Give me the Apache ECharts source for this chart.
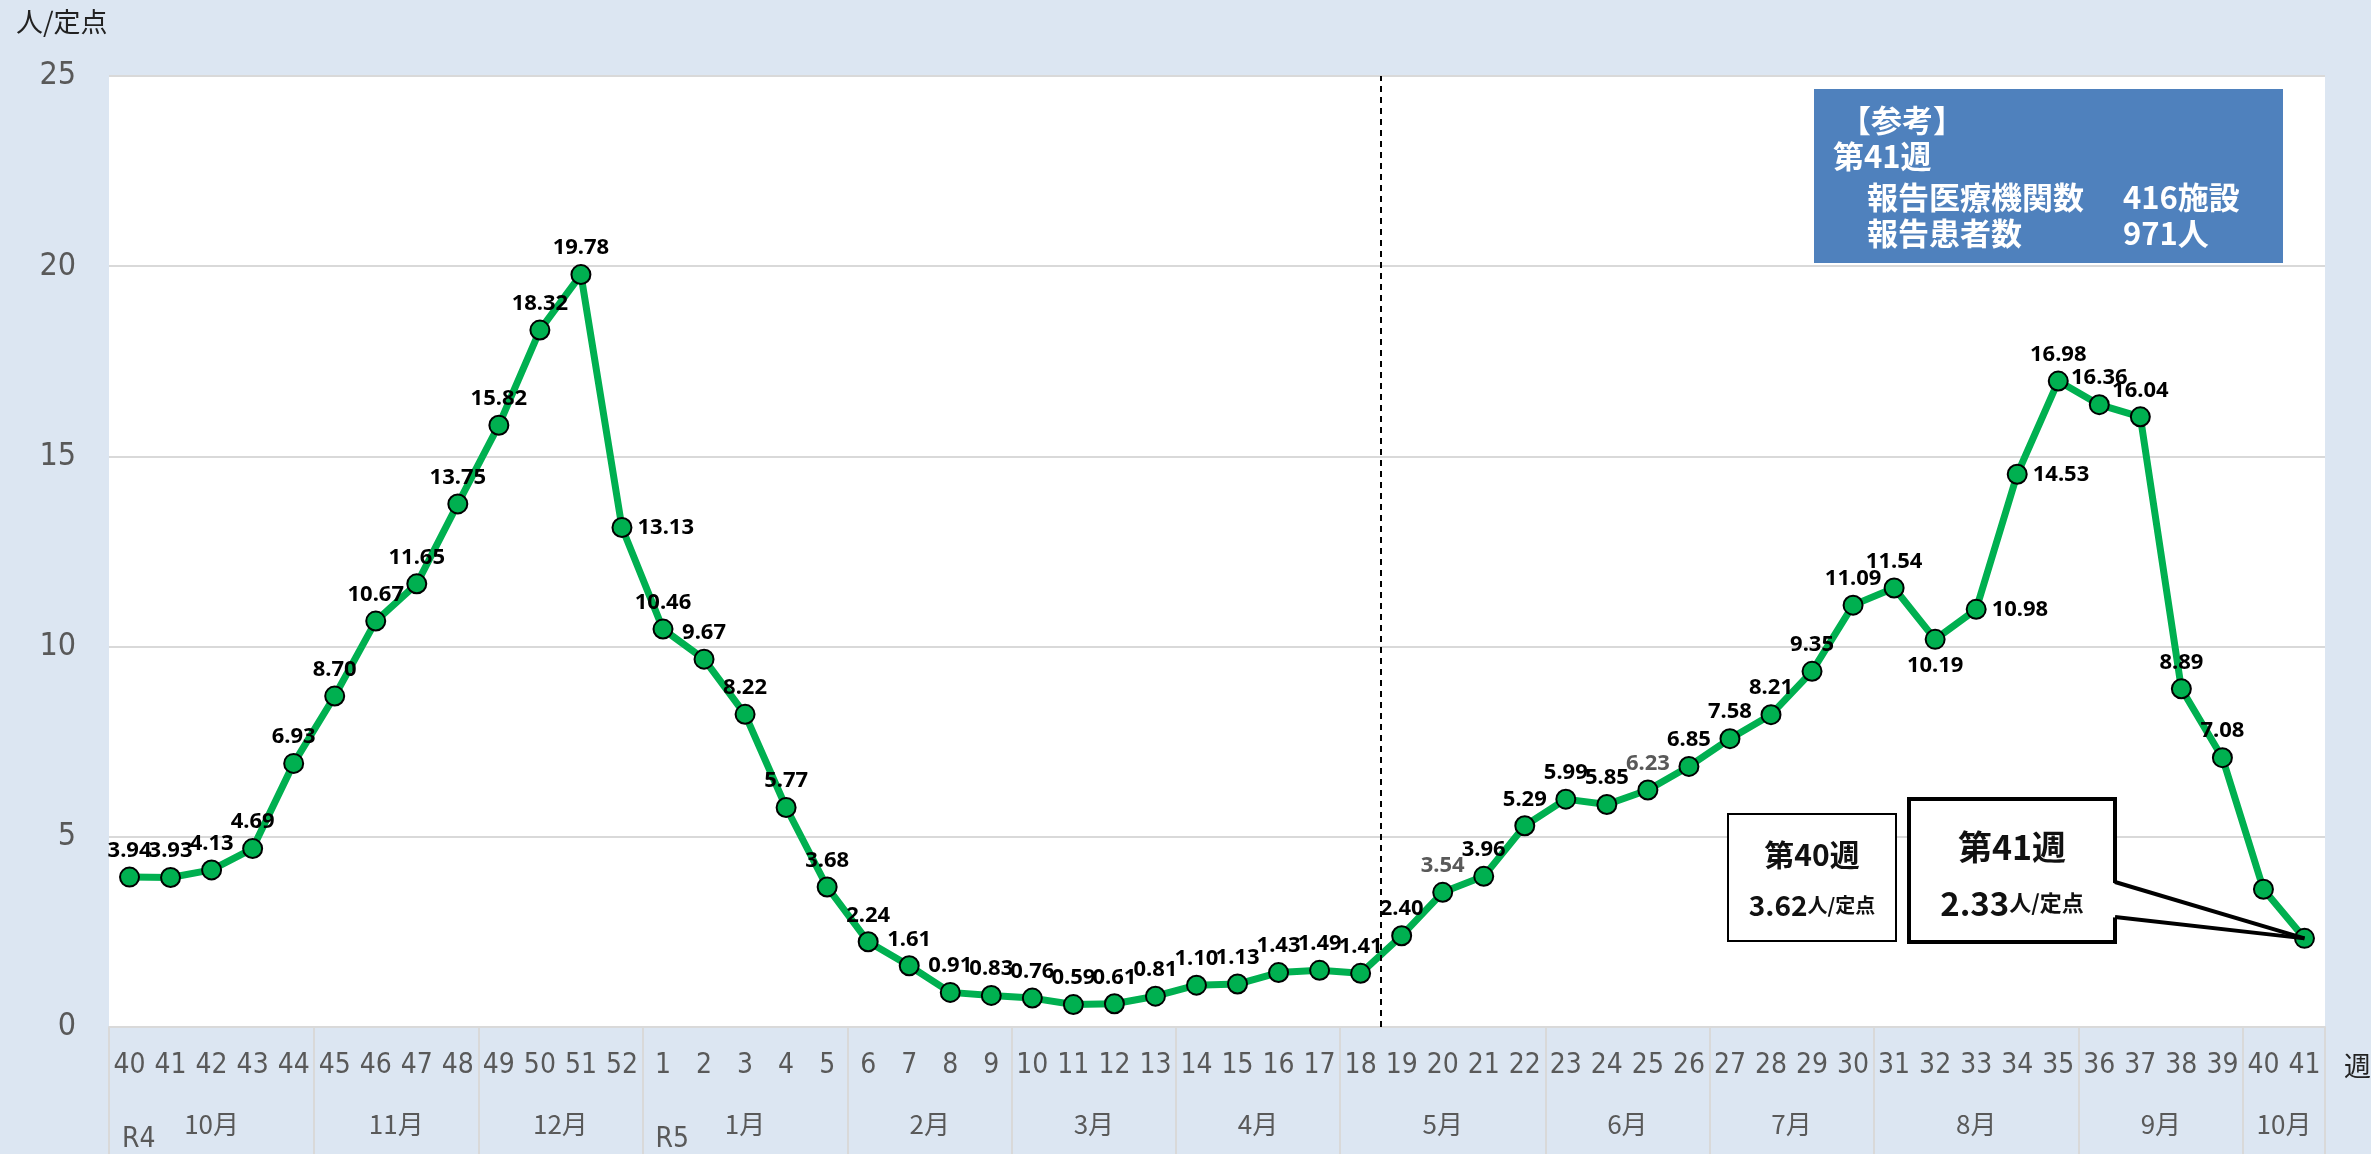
<!DOCTYPE html>
<html>
<head>
<meta charset="utf-8">
<script src="https://cdn.jsdelivr.net/npm/echarts@6/dist/echarts.min.js"></script>
<style>
html, body { margin: 0; padding: 0; background: #dce6f2; }
#chart { width: 2371px; height: 1154px; }
</style>
</head>
<body>
<div id="chart"></div>
<script>
// 週（R4第40週〜R5第41週）
var weeks = ['40', '41', '42', '43', '44', '45', '46', '47', '48', '49', '50', '51', '52',
    '1', '2', '3', '4', '5', '6', '7', '8', '9', '10', '11', '12', '13', '14', '15', '16', '17', '18', '19', '20',
    '21', '22', '23', '24', '25', '26', '27', '28', '29', '30', '31', '32', '33', '34', '35', '36', '37', '38', '39', '40', '41'];
// 定点当たり報告数
var values = [3.94, 3.93, 4.13, 4.69, 6.93, 8.70, 10.67, 11.65, 13.75, 15.82, 18.32, 19.78, 13.13,
    10.46, 9.67, 8.22, 5.77, 3.68, 2.24, 1.61, 0.91, 0.83, 0.76, 0.59, 0.61, 0.81, 1.10, 1.13, 1.43, 1.49, 1.41, 2.40, 3.54,
    3.96, 5.29, 5.99, 5.85, 6.23, 6.85, 7.58, 8.21, 9.35, 11.09, 11.54, 10.19, 10.98, 14.53, 16.98, 16.36, 16.04, 8.89, 7.08, 3.62, 2.33];
// 月と各月の週数
var months = ['10月', '11月', '12月', '1月', '2月', '3月', '4月', '5月', '6月', '7月', '8月', '9月', '10月'];
var monthWeeks = [5, 4, 4, 5, 4, 4, 4, 5, 4, 4, 5, 4, 2];
var eras = ['R4', 'R5'];
var eraStart = [0, 13];
var yTicks = [0, 5, 10, 15, 20, 25];
var infoNames = ['報告医療機関数', '報告患者数'];
var infoValues = ['416施設', '971人'];

// ラベル位置（t:上 tl:左上 tr:右上 r:右 b:下 空:なし）
var labelSide = ['t', 'tr', 't', 't', 'tl', 'tl', 'tl', 'tl', 'tl', 'tl', 'tl', 't', 'r',
    'tr', 'tr', 'tr', 'tr', 'tr', 't', 'tr', 'tr', 'tr', 'tr', 't', 't', 't', 't', 't', 't', 't', 't', 't', 't',
    't', 't', 't', 't', 't', 't', 't', 't', 't', 'tl', 't', 'b', 'r', 'rb', 't', 't', 'tr', 'tr', 'tr', '', ''];
var greyIdx = [32, 37];

var jp = "'Noto Sans CJK JP', sans-serif";
var narrow = "'Liberation Sans Narrow', 'DejaVu Sans Condensed', 'Noto Sans', sans-serif";

function labelFor(i) {
    var s = labelSide[i];
    var l = {show: true};
    if (s === '') return {show: false};
    if (s === 't') { l.position = 'top'; l.offset = [0, 0]; }
    if (s === 'tr') { l.position = 'top'; l.offset = [24, 5]; }
    if (s === 'tl') { l.position = 'top'; l.offset = [-34, 9]; }
    if (s === 'r') { l.position = 'right'; l.offset = [4, -10]; }
    if (s === 'rb') { l.position = 'right'; l.offset = [4, 12]; }
    if (s === 'b') { l.position = 'bottom'; l.offset = [-4, -6]; }
    if (greyIdx.indexOf(i) >= 0) l.color = '#595959';
    return l;
}

// 月軸（半週単位）
var monthData = [], eraData = [], monthTicks = [];
for (var k = 0; k <= weeks.length * 2; k++) { monthData.push(''); eraData.push(''); }
var pos = 0;
for (var m = 0; m < months.length; m++) {
    monthTicks.push(pos * 2);
    monthData[pos * 2 + monthWeeks[m]] = months[m];
    pos += monthWeeks[m];
}
monthTicks.push(pos * 2);
for (var e = 0; e < eras.length; e++) eraData[eraStart[e] * 2] = eras[e];

var chart = echarts.init(document.getElementById('chart'));
var option = {
    backgroundColor: '#dce6f2',
    animation: false,
    grid: {left: 109, right: 46, top: 76, bottom: 127, show: true, backgroundColor: '#fff', borderWidth: 0, outerBoundsMode: 'none'},
    xAxis: [{
        type: 'category',
        position: 'bottom',
        data: weeks,
        axisLine: {lineStyle: {color: '#d9d9d9', width: 2}},
        axisTick: {show: false},
        axisLabel: {interval: 0, color: '#595959', fontSize: 28, fontFamily: narrow, margin: 25}
    }, {
        type: 'category',
        position: 'bottom',
        offset: 0,
        data: monthData,
        boundaryGap: false,
        axisLine: {show: false},
        axisTick: {
            show: true, length: 130,
            interval: function (idx) { return monthTicks.indexOf(idx) >= 0; },
            lineStyle: {color: '#d9d9d9', width: 2}
        },
        axisLabel: {interval: 0, color: '#595959', fontSize: 26, fontFamily: jp, margin: 84}
    }, {
        type: 'category',
        position: 'bottom',
        offset: 0,
        data: eraData,
        boundaryGap: false,
        axisLine: {show: false},
        axisTick: {show: false},
        axisLabel: {interval: 0, color: '#595959', fontSize: 28, fontFamily: narrow, margin: 99, align: 'left', padding: [0, 0, 0, 13]}
    }, {
        type: 'value', min: 0, max: weeks.length, show: false
    }],
    yAxis: {
        type: 'value', min: yTicks[0], max: yTicks[yTicks.length - 1], interval: 5,
        axisLine: {show: false}, axisTick: {show: false},
        splitLine: {lineStyle: {color: '#d9d9d9', width: 2}},
        axisLabel: {color: '#595959', fontSize: 32, fontFamily: narrow, margin: 33}
    },
    series: [{
        type: 'line',
        data: values.map(function (v, i) { return {value: v, label: labelFor(i)}; }),
        symbol: 'circle',
        symbolSize: 19,
        lineStyle: {color: '#00b050', width: 7},
        itemStyle: {color: '#00b050', borderColor: '#000', borderWidth: 2},
        label: {
            show: true, color: '#000', fontSize: 22, fontWeight: 'bold', fontFamily: "'Noto Sans', sans-serif",
            formatter: function (p) { return p.value.toFixed(2); }
        },
        labelLayout: {hideOverlap: false},
        emphasis: {disabled: true},
        z: 3
    }, {
        type: 'line',
        xAxisIndex: 3,
        data: [],
        markLine: {
            silent: true, symbol: 'none', label: {show: false},
            lineStyle: {color: '#000', type: [6, 5], width: 2},
            data: [{xAxis: 31}]
        }
    }]
};
chart.setOption(option);

var tip = chart.convertToPixel({seriesIndex: 0}, [weeks.length - 1, values[weeks.length - 1]]);
var last = values[values.length - 1].toFixed(2);
var prev = values[values.length - 2].toFixed(2);

chart.setOption({
    graphic: [
        {type: 'text', left: 16, top: 8, style: {text: '人/定点', font: '27px ' + jp, fill: '#222'}},
        {type: 'text', left: 2344, top: 1052, style: {text: '週', font: '27px ' + jp, fill: '#222'}},
        // 参考ボックス
        {type: 'rect', shape: {x: 1814, y: 89, width: 469, height: 174}, style: {fill: '#4f81bd'}, z: 10},
        {type: 'text', x: 1840, y: 120, style: {text: '【参考】', font: 'bold 31px ' + jp, fill: '#fff', verticalAlign: 'middle'}, z: 11},
        {type: 'text', x: 1833, y: 156, style: {text: '第41週', font: 'bold 31px ' + jp, fill: '#fff', verticalAlign: 'middle'}, z: 11},
        {type: 'text', x: 1867, y: 197, style: {text: infoNames[0], font: 'bold 31px ' + jp, fill: '#fff', verticalAlign: 'middle'}, z: 11},
        {type: 'text', x: 2123, y: 197, style: {text: infoValues[0], font: 'bold 31px ' + jp, fill: '#fff', verticalAlign: 'middle'}, z: 11},
        {type: 'text', x: 1867, y: 233, style: {text: infoNames[1], font: 'bold 31px ' + jp, fill: '#fff', verticalAlign: 'middle'}, z: 11},
        {type: 'text', x: 2123, y: 233, style: {text: infoValues[1], font: 'bold 31px ' + jp, fill: '#fff', verticalAlign: 'middle'}, z: 11},
        // 第40週
        {type: 'rect', shape: {x: 1728, y: 814, width: 168, height: 127}, style: {fill: '#fff', stroke: '#000', lineWidth: 2}, z: 10},
        {type: 'text', x: 1812, y: 855, style: {text: '第40週', font: 'bold 30px ' + jp, fill: '#111', align: 'center', verticalAlign: 'middle'}, z: 11},
        {type: 'text', x: 1812, y: 905, style: {
            text: '{a|' + prev + '}{b|人/定点}', align: 'center', verticalAlign: 'middle', fill: '#111',
            rich: {a: {font: 'bold 28px ' + jp, fill: '#111'}, b: {font: 'bold 20px ' + jp, fill: '#111'}}
        }, z: 11},
        // 第41週
        {type: 'rect', shape: {x: 1909, y: 799, width: 206, height: 143}, style: {fill: '#fff', stroke: '#000', lineWidth: 4}, z: 10},
        {type: 'polygon', shape: {points: [[2110, 882], tip, [2110, 917]]}, style: {fill: '#fff'}, z: 11},
        {type: 'polyline', shape: {points: [[2115, 882], tip]}, style: {stroke: '#000', lineWidth: 4}, z: 11},
        {type: 'polyline', shape: {points: [[2115, 917], tip]}, style: {stroke: '#000', lineWidth: 4}, z: 11},
        {type: 'text', x: 2012, y: 847, style: {text: '第41週', font: 'bold 34px ' + jp, fill: '#111', align: 'center', verticalAlign: 'middle'}, z: 12},
        {type: 'text', x: 2012, y: 903, style: {
            text: '{a|' + last + '}{b|人/定点}', align: 'center', verticalAlign: 'middle', fill: '#111',
            rich: {a: {font: 'bold 33px ' + jp, fill: '#111'}, b: {font: 'bold 22px ' + jp, fill: '#111'}}
        }, z: 12}
    ]
});
</script>
</body>
</html>
